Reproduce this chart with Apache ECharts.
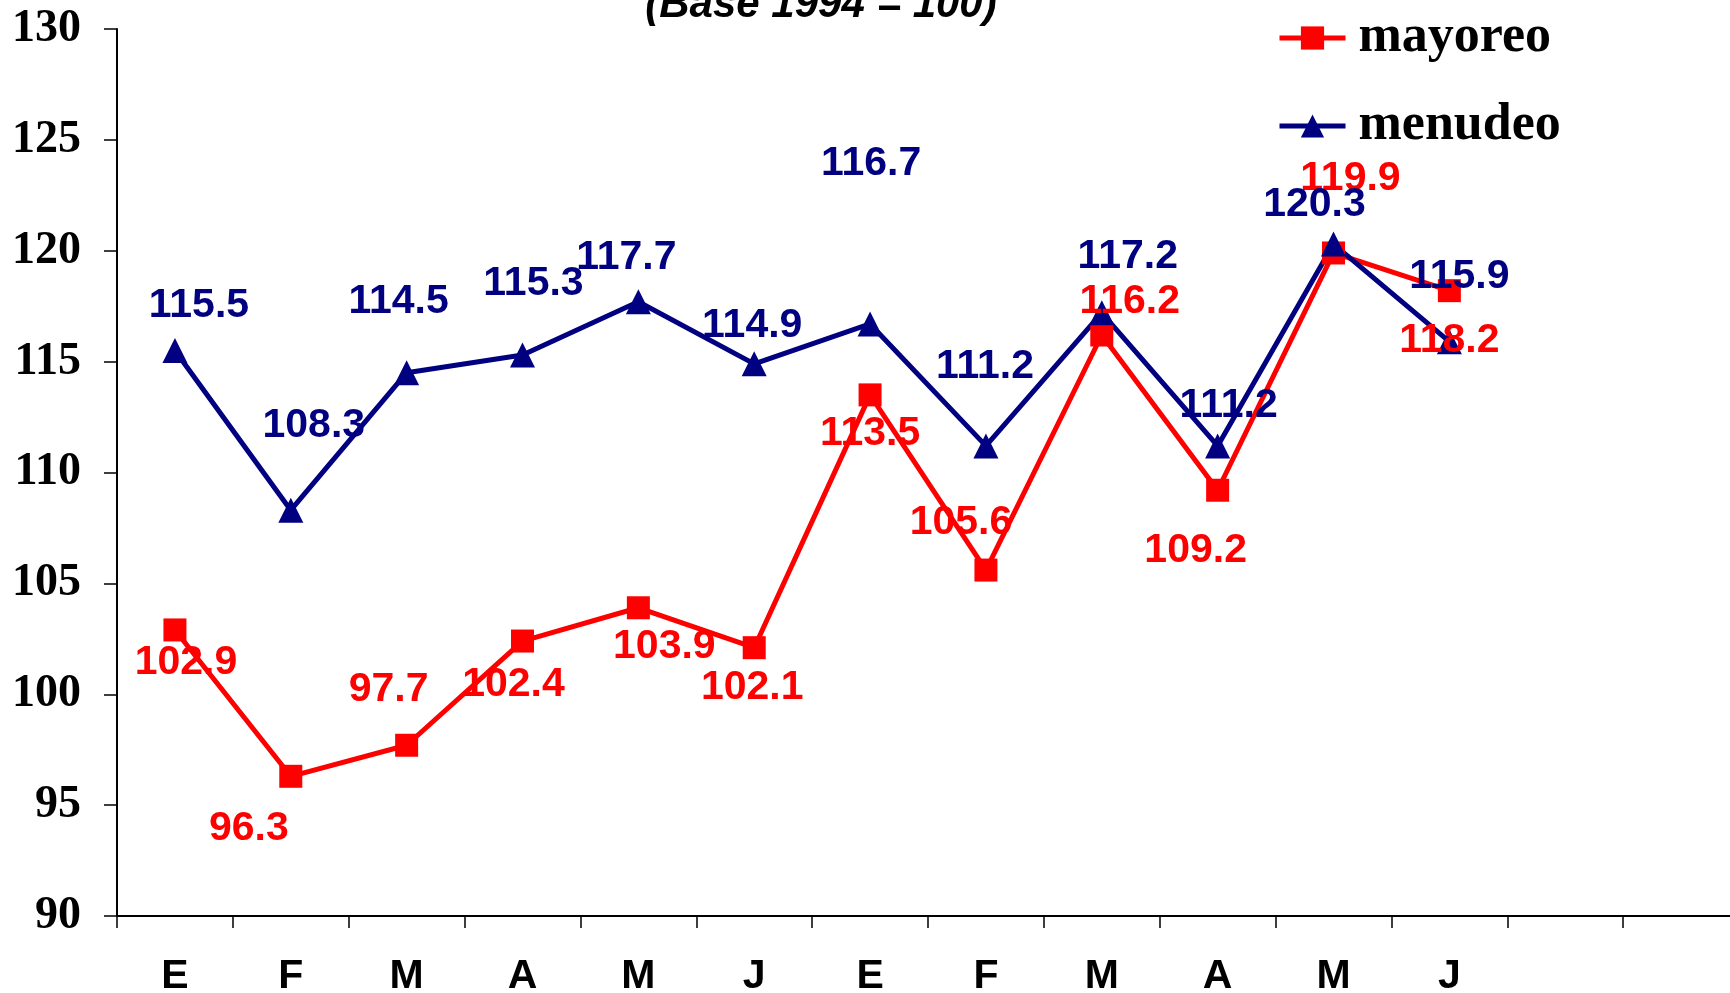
<!DOCTYPE html>
<html>
<head>
<meta charset="utf-8">
<script src="https://cdn.jsdelivr.net/npm/echarts@6/dist/echarts.min.js"></script>
<style>
  html, body { margin: 0; padding: 0; background: #fff; }
  #main { width: 1730px; height: 993px; }
</style>
</head>
<body>
<div id="main"></div>
<script>
// meses: ene-jun de dos años, dos huecos al final del eje
var meses = ['E', 'F', 'M', 'A', 'M', 'J', 'E', 'F', 'M', 'A', 'M', 'J', '', ''];
var mayoreo = [102.9, 96.3, 97.7, 102.4, 103.9, 102.1, 113.5, 105.6, 116.2, 109.2, 119.9, 118.2];
var menudeo = [115.5, 108.3, 114.5, 115.3, 117.7, 114.9, 116.7, 111.2, 117.2, 111.2, 120.3, 115.9];
var yTicks = [90, 95, 100, 105, 110, 115, 120, 125, 130];

// desplazamiento de etiquetas (px) respecto al punto
var offMayoreo = [[11, 33], [-42, 52], [-18, -56], [-9, 44], [26, 39], [-2, 40], [0, 39], [-25, -47], [28, -33], [-22, 60], [17, -74], [0, 50]];
var offMenudeo = [[24, -45], [23, -85], [-8, -71], [11, -71], [-12, -44], [-2, -38], [1, -160], [-1, -79], [26, -56], [11, -40], [-19, -39], [10, -65]];

function withLabels(vals, offs, color) {
    return vals.map(function (v, i) {
        return {
            value: v,
            label: {
                show: true, position: 'inside', offset: offs[i],
                color: color, fontFamily: 'Liberation Sans', fontWeight: 'bold', fontSize: 41
            }
        };
    });
}

var chart = echarts.init(document.getElementById('main'));

var option = {
    animation: false,
    backgroundColor: '#fff',
    graphic: [{
        type: 'text',
        x: 821, y: 5,
        style: {
            text: '(Base 1994 = 100)',
            fontFamily: 'Liberation Sans', fontWeight: 'bold', fontStyle: 'italic', fontSize: 42,
            fill: '#000', textAlign: 'center', textVerticalAlign: 'middle'
        }
    }],
    legend: {
        orient: 'vertical',
        left: 1272, top: 4,
        itemWidth: 66, itemHeight: 29, itemGap: 30,
        data: ['mayoreo', 'menudeo'],
        lineStyle: { width: 5 },
        textStyle: {
            fontFamily: 'Liberation Serif', fontWeight: 'bold', fontSize: 52, color: '#000',
            lineHeight: 58, padding: [0, 0, 0, 8]
        }
    },
    grid: { left: 117, top: 29, width: 1622, height: 887, containLabel: false, outerBoundsMode: 'none' },
    xAxis: {
        type: 'category',
        data: meses,
        boundaryGap: true,
        axisLine: { lineStyle: { color: '#000', width: 2 } },
        axisTick: { show: true, interval: 0, length: 12, lineStyle: { color: '#000', width: 1.5 } },
        axisLabel: {
            interval: 0, margin: 40, color: '#000',
            fontFamily: 'Liberation Sans', fontWeight: 'bold', fontSize: 41
        },
        splitLine: { show: false }
    },
    yAxis: {
        type: 'value',
        min: yTicks[0], max: yTicks[yTicks.length - 1], interval: 5,
        axisLine: { show: true, lineStyle: { color: '#000', width: 2 } },
        axisTick: { show: true, length: 13, lineStyle: { color: '#000', width: 1.5 } },
        axisLabel: {
            margin: 36, color: '#000',
            fontFamily: 'Liberation Serif', fontWeight: 'bold', fontSize: 46
        },
        splitLine: { show: false }
    },
    series: [
        {
            name: 'mayoreo',
            type: 'line',
            data: withLabels(mayoreo, offMayoreo, '#ff0000'),
            symbol: 'rect', symbolSize: 23,
            itemStyle: { color: '#ff0000' },
            lineStyle: { color: '#ff0000', width: 5 }
        },
        {
            name: 'menudeo',
            type: 'line',
            data: withLabels(menudeo, offMenudeo, '#000080'),
            symbol: 'triangle', symbolSize: 25,
            itemStyle: { color: '#000080' },
            lineStyle: { color: '#000080', width: 5 }
        }
    ]
};

chart.setOption(option);
</script>
</body>
</html>
